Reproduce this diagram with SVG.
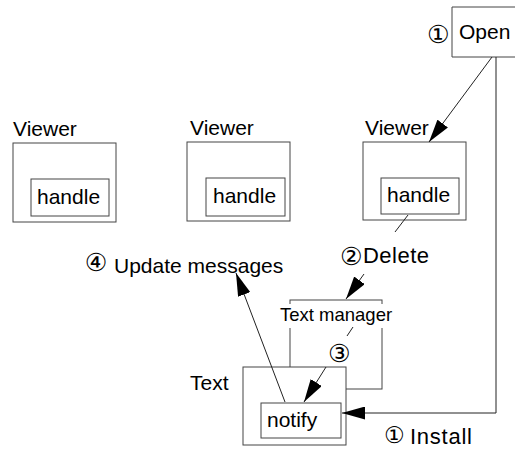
<svg xmlns="http://www.w3.org/2000/svg" width="516" height="450" viewBox="0 0 516 450">
<style>
  .box { fill: #fff; stroke: #444; stroke-width: 1; }
  .open { fill: none; stroke: #444; stroke-width: 1; }
  .lbl { font-family: "Liberation Sans", Arial, sans-serif; font-size: 21px; fill: #000; }
  .small { font-size: 18.5px; }
  .big { font-size: 22px; }
  .num { font-family: "DejaVu Sans", sans-serif; font-size: 25px; fill: #000; }
  .num2 { font-size: 23px; }
  .conn { fill: none; stroke: #222; stroke-width: 1; }
  .arr { marker-end: url(#ah); }
</style>
<defs>
  <marker id="ah" markerUnits="userSpaceOnUse" markerWidth="23" markerHeight="13" refX="23" refY="6.5" orient="auto">
    <path d="M0,0 L23,6.5 L0,13 z" fill="#000"/>
  </marker>
</defs>
<rect width="516" height="450" fill="#fff"/>

<g id="viewer1">
  <text class="lbl" x="13" y="136">Viewer</text>
  <rect class="box" x="13" y="143" width="103" height="79"/>
  <g id="handle1">
    <rect class="box" x="31" y="179" width="78" height="37"/>
    <text class="lbl" x="37" y="204">handle</text>
  </g>
</g>

<g id="viewer2">
  <text class="lbl" x="190" y="135">Viewer</text>
  <rect class="box" x="187" y="142" width="103" height="79"/>
  <g id="handle2">
    <rect class="box" x="206" y="178" width="79" height="38"/>
    <text class="lbl" x="213" y="203">handle</text>
  </g>
</g>

<g id="viewer3">
  <text class="lbl" x="365" y="135">Viewer</text>
  <rect class="box" x="363" y="142" width="103" height="78"/>
  <g id="handle3">
    <rect class="box" x="381" y="178" width="78" height="36"/>
    <text class="lbl" x="387" y="202">handle</text>
  </g>
</g>

<g id="open">
  <path class="open" d="M515,7 H452 V57 H515"/>
  <text class="num" x="427" y="43">①</text>
  <text class="lbl" x="459" y="39">Open</text>
</g>

<g id="text-manager">
  <rect class="box" x="290" y="300" width="92" height="89"/>
  <rect x="277" y="304" width="119" height="24" fill="#fff"/>
  <text class="lbl small" x="280" y="321">Text manager</text>
</g>

<g id="text">
  <text class="lbl" x="190" y="390">Text</text>
  <rect class="box" x="243" y="367" width="103" height="78"/>
  <g id="notify">
    <rect class="box" x="261" y="403" width="80" height="35"/>
    <text class="lbl" x="267" y="427">notify</text>
  </g>
</g>

<g id="connectors">
  <line class="conn arr" x1="492" y1="57" x2="429" y2="142"/>
  <path class="conn arr" d="M496,57 V413 H342"/>
  <line class="conn" x1="408" y1="215" x2="395" y2="232"/>
  <line class="conn arr" x1="364" y1="274" x2="346" y2="299"/>
  <line class="conn" x1="353" y1="327" x2="347" y2="336"/>
  <line class="conn arr" x1="326" y1="367" x2="304" y2="402"/>
  <line class="conn arr" x1="285" y1="402" x2="236" y2="273"/>
</g>

<g id="labels">
  <text class="num" x="340" y="265">②</text>
  <text class="lbl big" x="363" y="263" textLength="66" lengthAdjust="spacing">Delete</text>
  <text class="num" x="328" y="361.5">③</text>
  <text class="num" x="84.8" y="271">④</text>
  <text class="lbl" x="114" y="273">Update messages</text>
  <text class="num num2" x="384" y="443">①</text>
  <text class="lbl big" x="410" y="444" textLength="62" lengthAdjust="spacing">Install</text>
</g>
</svg>
